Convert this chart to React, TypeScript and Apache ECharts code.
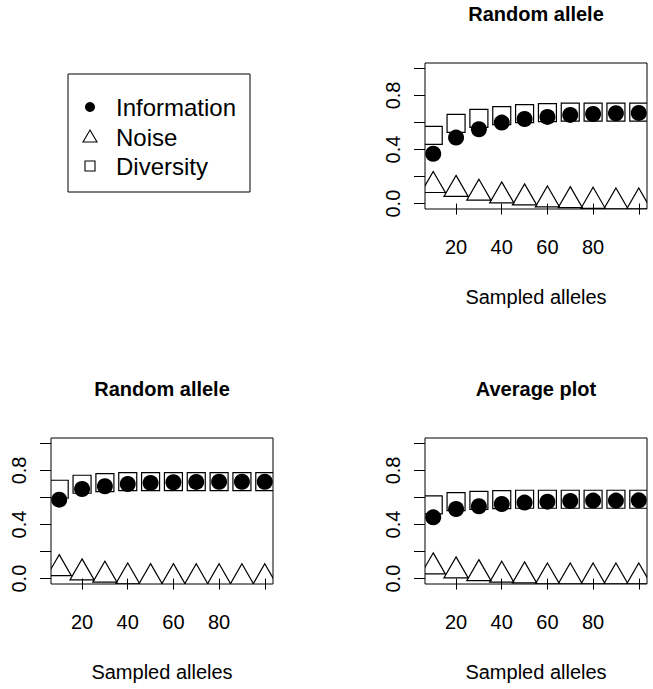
import React, { useEffect, useRef } from "react";
import * as echarts from "echarts";

// ---------- data ----------
const sampledAlleles = [10, 20, 30, 40, 50, 60, 70, 80, 90, 100];
const xTickValues = [20, 40, 60, 80, 100];
const xLabelValues = [20, 40, 60, 80];
const yTickValues = [0, 0.2, 0.4, 0.6, 0.8, 1.0];
const yLabelValues = [0, 0.4, 0.8];

const panelTitles = ["Random allele", "Random allele", "Average plot"];
const seriesNames = ["Information", "Noise", "Diversity"];
const xAxisTitle = "Sampled alleles";

// top-right panel: Random allele
const informationA = [0.369, 0.488, 0.55, 0.599, 0.626, 0.641, 0.656, 0.663, 0.668, 0.671];
const noiseA = [0.134, 0.105, 0.077, 0.057, 0.042, 0.027, 0.022, 0.017, 0.012, 0.012];
const diversityA = [0.505, 0.594, 0.631, 0.651, 0.666, 0.673, 0.676, 0.676, 0.677, 0.677];

// bottom-left panel: Random allele
const informationB = [0.584, 0.663, 0.683, 0.7, 0.708, 0.713, 0.715, 0.716, 0.716, 0.716];
const noiseB = [0.074, 0.042, 0.025, 0.012, 0.007, 0.007, 0.006, 0.006, 0.006, 0.006];
const diversityB = [0.661, 0.698, 0.71, 0.718, 0.718, 0.718, 0.718, 0.718, 0.718, 0.718];

// bottom-right panel: Average plot
const informationC = [0.453, 0.515, 0.535, 0.552, 0.562, 0.569, 0.574, 0.577, 0.577, 0.579];
const noiseC = [0.087, 0.057, 0.037, 0.025, 0.02, 0.012, 0.012, 0.012, 0.012, 0.012];
const diversityC = [0.545, 0.569, 0.579, 0.584, 0.587, 0.587, 0.587, 0.587, 0.587, 0.587];

const panelData = [
  { information: informationA, noise: noiseA, diversity: diversityA },
  { information: informationB, noise: noiseB, diversity: diversityB },
  { information: informationC, noise: noiseC, diversity: diversityC },
];

// ---------- layout / style ----------
const FONT = "'Liberation Sans', Arial, Helvetica, sans-serif";
const GRID_W = 222;
const GRID_H = 146;
const panelBoxes = [
  { left: 425, top: 63 },
  { left: 51, top: 438 },
  { left: 425, top: 438 },
];

const pairs = (ys: number[]) => sampledAlleles.map((x, i) => [x, ys[i]]);

const circleItem = (_p: any, api: any) => {
  const p = api.coord([api.value(0), api.value(1)]);
  return { type: "circle", shape: { cx: p[0], cy: p[1], r: 8 }, style: { fill: "#000" } };
};
const triangleItem = (_p: any, api: any) => {
  const p = api.coord([api.value(0), api.value(1)]);
  const r = 14;
  const hw = 12.1;
  return {
    type: "polygon",
    shape: { points: [[p[0], p[1] - r], [p[0] + hw, p[1] + r / 2], [p[0] - hw, p[1] + r / 2]] },
    style: { fill: "none", stroke: "#000", lineWidth: 1.2 },
  };
};
const squareItem = (_p: any, api: any) => {
  const p = api.coord([api.value(0), api.value(1)]);
  const h = 9;
  return {
    type: "rect",
    shape: { x: p[0] - h, y: p[1] - h, width: 2 * h, height: 2 * h },
    style: { fill: "none", stroke: "#000", lineWidth: 1.2 },
  };
};

export default function App() {
  const ref = useRef<HTMLDivElement>(null);

  useEffect(() => {
    if (!ref.current) return;
    const chart = echarts.init(ref.current, null, { renderer: "svg" });

    const axisText = { color: "#000", fontSize: 20, fontFamily: FONT, lineHeight: 20 };

    const grids = panelBoxes.map((b) => ({
      left: b.left,
      top: b.top,
      width: GRID_W,
      height: GRID_H,
      show: true,
      borderColor: "#000",
      borderWidth: 1,
      backgroundColor: "transparent",
    }));

    const xAxes = panelBoxes.map((_b, i) => ({
      gridIndex: i,
      type: "value",
      min: 6.4,
      max: 103.6,
      axisLine: { show: false },
      axisTick: {
        show: true,
        inside: false,
        length: 11,
        customValues: xTickValues,
        lineStyle: { color: "#000", width: 1 },
      },
      axisLabel: { show: true, customValues: xLabelValues, margin: 28, ...axisText },
      splitLine: { show: false },
      name: xAxisTitle,
      nameLocation: "middle",
      nameGap: 78,
      nameTextStyle: { ...axisText },
    }));

    const yAxes = panelBoxes.map((_b, i) => ({
      gridIndex: i,
      type: "value",
      min: -0.04,
      max: 1.04,
      axisLine: { show: false },
      axisTick: {
        show: true,
        inside: false,
        length: 11,
        customValues: yTickValues,
        lineStyle: { color: "#000", width: 1 },
      },
      axisLabel: {
        show: true,
        customValues: yLabelValues,
        rotate: 90,
        margin: 22,
        formatter: (v: number) => v.toFixed(1),
        ...axisText,
      },
      splitLine: { show: false },
    }));

    const series: any[] = [];
    panelData.forEach((d, i) => {
      series.push({
        type: "custom",
        name: seriesNames[2],
        xAxisIndex: i,
        yAxisIndex: i,
        clip: true,
        renderItem: squareItem,
        data: pairs(d.diversity),
        encode: { x: 0, y: 1 },
      });
      series.push({
        type: "custom",
        name: seriesNames[0],
        xAxisIndex: i,
        yAxisIndex: i,
        clip: true,
        renderItem: circleItem,
        data: pairs(d.information),
        encode: { x: 0, y: 1 },
      });
      series.push({
        type: "custom",
        name: seriesNames[1],
        xAxisIndex: i,
        yAxisIndex: i,
        clip: true,
        renderItem: triangleItem,
        data: pairs(d.noise),
        encode: { x: 0, y: 1 },
      });
    });

    const titles = panelBoxes.map((b, i) => ({
      text: panelTitles[i],
      left: b.left + GRID_W / 2,
      top: b.top - 59.5,
      textAlign: "center",
      padding: 0,
      textStyle: { color: "#000", fontSize: 20, fontWeight: "bold", fontFamily: FONT, lineHeight: 20 },
    }));

    // legend (drawn in the empty top-left panel)
    const lg = { x: 68, y: 74, w: 182, h: 118, symX: 90, textX: 116, rows: [107, 137, 166] };
    const legendText = { fill: "#000", fontSize: 24, fontFamily: FONT };
    const graphic: any[] = [
      {
        type: "rect",
        shape: { x: lg.x, y: lg.y, width: lg.w, height: lg.h },
        style: { fill: "#fff", stroke: "#000", lineWidth: 1 },
      },
      { type: "circle", shape: { cx: lg.symX, cy: lg.rows[0], r: 5 }, style: { fill: "#000" } },
      {
        type: "polygon",
        shape: {
          points: [
            [lg.symX, lg.rows[1] - 7],
            [lg.symX + 7, lg.rows[1] + 5],
            [lg.symX - 7, lg.rows[1] + 5],
          ],
        },
        style: { fill: "none", stroke: "#000", lineWidth: 1.1 },
      },
      {
        type: "rect",
        shape: { x: lg.symX - 5, y: lg.rows[2] - 5, width: 10, height: 10 },
        style: { fill: "none", stroke: "#000", lineWidth: 1.1 },
      },
      ...seriesNames.map((n, i) => ({
        type: "text",
        x: lg.textX,
        y: lg.rows[i],
        style: { text: n, ...legendText, textAlign: "left", textVerticalAlign: "middle" },
      })),
    ];

    chart.setOption({
      animation: false,
      backgroundColor: "#fff",
      title: titles,
      grid: grids,
      xAxis: xAxes,
      yAxis: yAxes,
      series,
      graphic,
    });

    return () => chart.dispose();
  }, []);

  return (
    <div
      ref={ref}
      style={{ position: "absolute", left: 0, top: 0, width: 653, height: 689 }}
    />
  );
}
